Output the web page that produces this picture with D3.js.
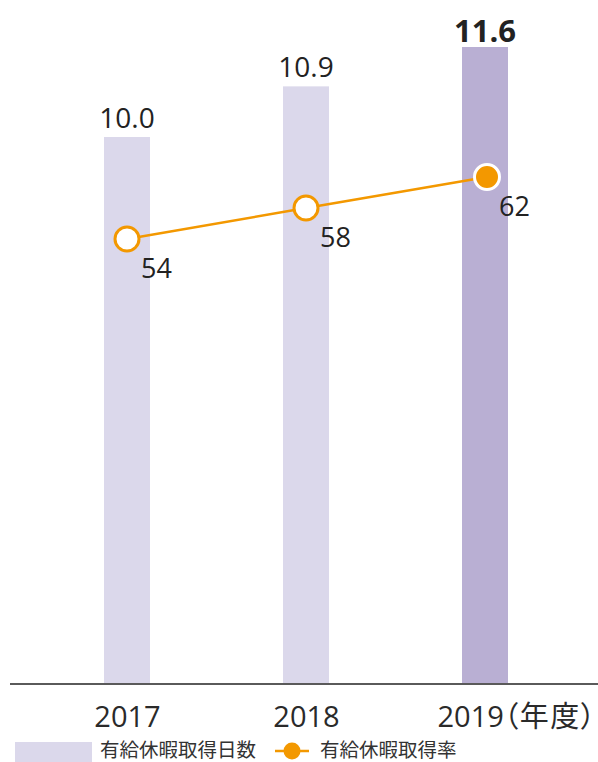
<!DOCTYPE html>
<html lang="ja">
<head>
<meta charset="utf-8">
<script src="https://cdn.jsdelivr.net/npm/d3@7"></script>
<style>
  html, body { margin: 0; padding: 0; background: #fff; }
  svg { display: block; font-family: "Open Sans", "Noto Sans CJK JP", sans-serif; }
  .jp { font-feature-settings: "palt"; }
</style>
</head>
<body>
<svg id="chart" width="598" height="762"></svg>
<script>
// Paid-leave data per fiscal year
const years = ["2017", "2018", "2019"];
const yearLabels = ["2017", "2018", "2019"];
const yearUnit = ["（年度", "）"];
const leaveDays = [10.0, 10.9, 11.6];   // 有給休暇取得日数
const leaveRates = [54, 58, 62];        // 有給休暇取得率 (%)
const legendLabels = ["有給休暇取得日数", "有給休暇取得率"];

const svg = d3.select("#chart");

const lightBar = "#dbd8eb";
const darkBar = "#b9afd3";
const orange = "#f39800";
const textColor = "#222";

const baseY = 684;

const x = d3.scalePoint().domain(years).range([127, 485]);
const yDays = d3.scaleLinear().domain([0, 12]).range([699.5, 24.5]);
const yRate = d3.scaleLinear().domain([0, 80]).range([657.5, 37.5]);

const barW = 46;
const data = years.map((y, i) => ({ year: y, days: leaveDays[i], rate: leaveRates[i], last: i === years.length - 1 }));

// bars
svg.append("g").selectAll("rect")
  .data(data)
  .join("rect")
  .attr("x", d => x(d.year) - barW / 2)
  .attr("y", d => yDays(d.days))
  .attr("width", barW)
  .attr("height", d => baseY - yDays(d.days))
  .attr("fill", d => d.last ? darkBar : lightBar);

// bar value labels
svg.append("g").selectAll("text")
  .data(data)
  .join("text")
  .attr("x", d => x(d.year))
  .attr("y", d => yDays(d.days) - (d.last ? 5 : 9))
  .attr("text-anchor", "middle")
  .attr("font-size", d => d.last ? 31 : 28)
  .attr("font-weight", d => d.last ? 700 : 400)
  .attr("fill", textColor)
  .text(d => d.days.toFixed(1));

// x axis
const axis = svg.append("g")
  .attr("transform", `translate(0,${baseY})`)
  .call(d3.axisBottom(x).tickSize(0).tickSizeOuter(0).tickFormat((d, i) => yearLabels[i]));
axis.select(".domain").remove();
axis.selectAll("text")
  .attr("class", "jp")
  .attr("font-family", "'Open Sans', 'Noto Sans CJK JP', sans-serif")
  .attr("font-size", 29)
  .attr("fill", "#2a2a2a")
  .attr("dy", null)
  .attr("y", 727 - baseY);
const lastTick = axis.selectAll(".tick").filter((d, i) => i === years.length - 1).select("text")
  .attr("text-anchor", "start")
  .attr("x", -48);
lastTick.append("tspan")
  .attr("font-family", "'Noto Sans CJK JP', sans-serif")
  .attr("letter-spacing", 1.5)
  .text(yearUnit[0]);
lastTick.append("tspan")
  .attr("font-family", "'Noto Sans CJK JP', sans-serif")
  .text(yearUnit[1]);

svg.append("line")
  .attr("x1", 10).attr("x2", 598)
  .attr("y1", baseY).attr("y2", baseY)
  .attr("stroke", "#5a5a5a")
  .attr("stroke-width", 2);

// rate line
const line = d3.line().x(d => x(d.year) + (d.last ? 2 : 0)).y(d => yRate(d.rate));
svg.append("path")
  .datum(data)
  .attr("d", line)
  .attr("fill", "none")
  .attr("stroke", orange)
  .attr("stroke-width", 2.5);

svg.append("g").selectAll("circle")
  .data(data)
  .join("circle")
  .attr("cx", d => x(d.year) + (d.last ? 2 : 0))
  .attr("cy", d => yRate(d.rate))
  .attr("r", d => d.last ? 12.5 : 12)
  .attr("fill", d => d.last ? orange : "#fff")
  .attr("stroke", d => d.last ? "#fff" : orange)
  .attr("stroke-width", 3);

svg.append("g").selectAll("text")
  .data(data)
  .join("text")
  .attr("x", d => x(d.year) + 14)
  .attr("y", d => yRate(d.rate) + 39)
  .attr("font-size", 27)
  .attr("fill", textColor)
  .text(d => d.rate);

// legend
const legend = svg.append("g").attr("class", "jp");
legend.append("rect")
  .attr("x", 15).attr("y", 742)
  .attr("width", 77).attr("height", 20)
  .attr("fill", lightBar);
legend.append("text")
  .attr("x", 100).attr("y", 757)
  .attr("font-family", "'Noto Sans CJK JP', sans-serif")
  .attr("font-size", 19.5)
  .attr("fill", "#333")
  .text(legendLabels[0]);
legend.append("line")
  .attr("x1", 275).attr("x2", 309)
  .attr("y1", 751).attr("y2", 751)
  .attr("stroke", orange).attr("stroke-width", 2.5);
legend.append("circle")
  .attr("cx", 292).attr("cy", 751).attr("r", 8.5)
  .attr("fill", orange);
legend.append("text")
  .attr("x", 320).attr("y", 757)
  .attr("font-family", "'Noto Sans CJK JP', sans-serif")
  .attr("font-size", 19.5)
  .attr("fill", "#333")
  .text(legendLabels[1]);
</script>
</body>
</html>
